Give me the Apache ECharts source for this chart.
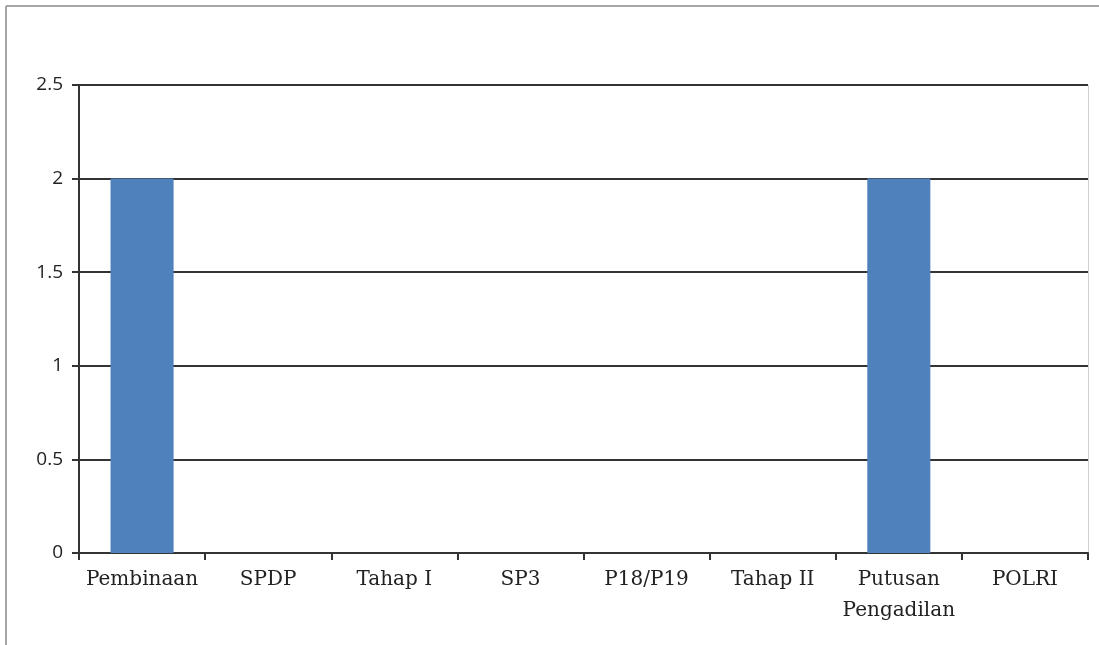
<!DOCTYPE html>
<html>
<head>
<meta charset="utf-8">
<script src="https://cdn.jsdelivr.net/npm/echarts@6/dist/echarts.min.js"></script>
<style>
  html, body { margin: 0; padding: 0; background: #fff; }
  #chart { width: 1099px; height: 645px; }
</style>
</head>
<body>
<div id="chart"></div>
<script>
var categories = ['Pembinaan', 'SPDP', 'Tahap I', 'SP3', 'P18/P19', 'Tahap II', 'Putusan\nPengadilan', 'POLRI'];
var values = [2, 0, 0, 0, 0, 0, 2, 0];
var yMin = 0, yMax = 2.5, yStep = 0.5;

var chart = echarts.init(document.getElementById('chart'));
chart.setOption({
  animation: false,
  grid: { left: 79, right: 11, top: 85, bottom: 92 },
  graphic: [
    // frame of the page (top and left edges)
    { type: 'line', shape: { x1: 6, y1: 6, x2: 1099, y2: 6 }, style: { stroke: '#a6a6a6', lineWidth: 2 } },
    { type: 'line', shape: { x1: 6, y1: 6, x2: 6, y2: 645 }, style: { stroke: '#a6a6a6', lineWidth: 2 } },
    // light right edge of plot area
    { type: 'line', shape: { x1: 1088.5, y1: 85, x2: 1088.5, y2: 553 }, style: { stroke: '#d0d0d0', lineWidth: 1 } }
  ],
  xAxis: {
    type: 'category',
    data: categories,
    axisLine: { lineStyle: { color: '#333', width: 2 } },
    axisTick: { show: true, length: 7, lineStyle: { color: '#333', width: 2 } },
    axisLabel: { color: '#222', fontFamily: 'DejaVu Serif', fontSize: 20, margin: 11, lineHeight: 31, interval: 0 }
  },
  yAxis: {
    type: 'value',
    min: yMin, max: yMax, interval: yStep,
    axisLine: { show: true, lineStyle: { color: '#333', width: 2 } },
    axisTick: { show: true, length: 7, lineStyle: { color: '#333', width: 2 } },
    splitLine: { lineStyle: { color: '#333', width: 2 } },
    axisLabel: { color: '#222', fontFamily: 'Open Sans', fontSize: 19, margin: 16 }
  },
  series: [{
    type: 'bar',
    data: values,
    barWidth: '50%',
    itemStyle: { color: '#4f81bd' }
  }]
});
</script>
</body>
</html>
